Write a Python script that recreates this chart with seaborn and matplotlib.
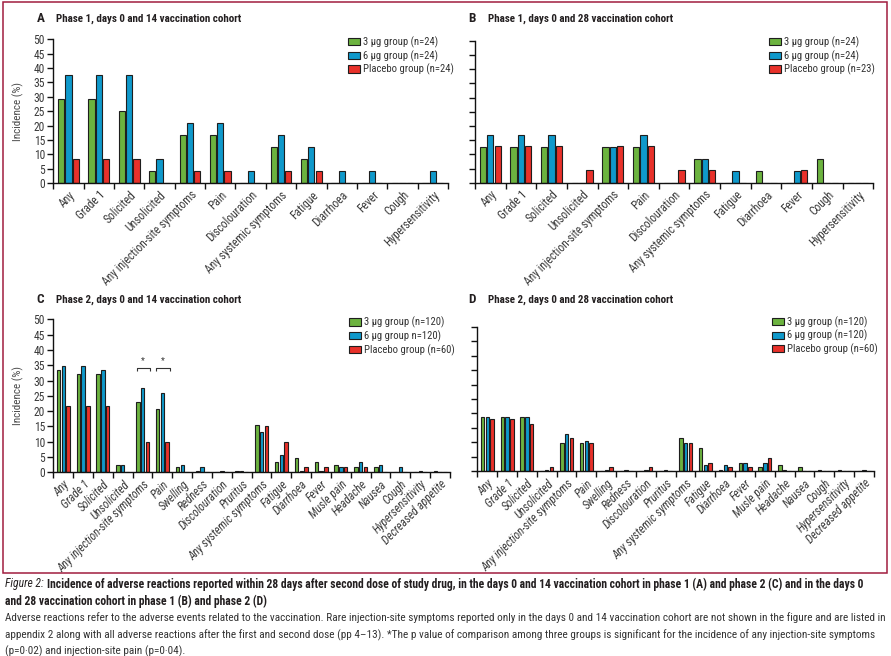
import matplotlib
matplotlib.use("Agg")
import numpy as np
import pandas as pd
import seaborn as sns
import matplotlib.pyplot as plt
from matplotlib.patches import Rectangle, Patch
from matplotlib import font_manager

# reaction categories
cats_p1 = ["Any", "Grade 1", "Solicited", "Unsolicited", "Any injection-site symptoms", "Pain",
           "Discolouration", "Any systemic symptoms", "Fatigue", "Diarrhoea", "Fever", "Cough",
           "Hypersensitivity"]
cats_p2 = ["Any", "Grade 1", "Solicited", "Unsolicited", "Any injection-site symptoms", "Pain",
           "Swelling", "Redness", "Discolouration", "Pruritus", "Any systemic symptoms", "Fatigue",
           "Diarrhoea", "Fever", "Musle pain", "Headache", "Nausea", "Cough", "Hypersensitivity",
           "Decreased appetite"]

# A: phase 1, days 0 and 14
a_3ug = [29.2, 29.2, 25.0, 4.2, 16.7, 16.7, 0, 12.5, 8.3, 0, 0, 0, 0]
a_6ug = [37.5, 37.5, 37.5, 8.3, 20.8, 20.8, 4.2, 16.7, 12.5, 4.2, 4.2, 0, 4.2]
a_plc = [8.3, 8.3, 8.3, 0, 4.2, 4.2, 0, 4.2, 4.2, 0, 0, 0, 0]
a_groups = ["3 μg group (n=24)", "6 μg group (n=24)", "Placebo group (n=24)"]

# B: phase 1, days 0 and 28
b_3ug = [12.5, 12.5, 12.5, 0, 12.5, 12.5, 0, 8.3, 0, 4.2, 0, 8.3, 0]
b_6ug = [16.7, 16.7, 16.7, 0, 12.5, 16.7, 0, 8.3, 4.2, 0, 4.2, 0, 0]
b_plc = [13.0, 13.0, 13.0, 4.3, 13.0, 13.0, 4.3, 4.3, 0, 0, 4.3, 0, 0]
b_groups = ["3 μg group (n=24)", "6 μg group (n=24)", "Placebo group (n=23)"]

# C: phase 2, days 0 and 14
c_3ug = [33.3, 32.2, 32.2, 2.5, 23.1, 20.8, 1.6, 0.5, 0, 0.5, 15.6, 3.3, 4.8, 3.3, 2.5, 1.6, 1.6,
         0, 0, 0.5]
c_6ug = [34.8, 34.8, 33.3, 2.5, 27.4, 25.8, 2.5, 1.6, 0.5, 0.5, 13.3, 5.8, 0.5, 0.5, 1.6, 3.3, 2.5,
         1.6, 0.5, 0]
c_plc = [21.7, 21.7, 21.7, 0, 10.0, 10.0, 0, 0, 0, 0, 15.0, 10.0, 1.6, 1.6, 1.6, 1.6, 0, 0, 0, 0]
c_groups = ["3 μg group (n=120)", "6 μg group n=120)", "Placebo group (n=60)"]

# D: phase 2, days 0 and 28
d_3ug = [18.8, 18.8, 18.8, 0, 9.8, 9.8, 0, 0, 0, 0, 11.4, 7.9, 0.4, 2.8, 1.4, 2.1, 1.4, 0.4, 0.4, 0]
d_6ug = [18.8, 18.8, 18.8, 0.4, 12.9, 10.5, 0.4, 0.4, 0.4, 0.4, 9.7, 2.1, 2.1, 2.8, 2.8, 0.4, 0, 0,
         0, 0.4]
d_plc = [18.0, 18.0, 16.2, 1.4, 11.4, 9.8, 1.4, 0, 1.4, 0, 9.7, 2.8, 1.4, 1.4, 4.5, 0, 0, 0, 0, 0]
d_groups = ["3 μg group (n=120)", "6 μg group (n=120)", "Placebo group (n=60)"]

sig_cats = ["Any injection-site symptoms", "Pain"]

grp_colors = ["#6cb33f", "#0f99cb", "#e8312a"]
W, H = 891, 656

sns.set_theme(style="ticks")
installed = {f.name for f in font_manager.fontManager.ttflist}
font_name = "DejaVu Sans"
for cand in ["Liberation Sans Narrow", "Roboto Condensed", "Open Sans Condensed", "Lato", "Roboto"]:
    if cand in installed:
        font_name = cand
        break
plt.rcParams["font.family"] = [font_name, "DejaVu Sans"]

fig = plt.figure(figsize=(W / 100, H / 100), dpi=100)
renderer = fig.canvas.get_renderer()


def fx(px):
    return px / W


def fy(py):
    return 1 - py / H


def draw_panel(box, cats, series, groups, letter, title, title_pos, legend_pos,
               y_labels=True, italic=False, gap=0.15):
    left, top, right, bottom = box
    ax = fig.add_axes([fx(left), fy(bottom), fx(right - left), (bottom - top) / H])
    rows = []
    for g, vals in zip(groups, series):
        for c, v in zip(cats, vals):
            rows.append((c, g, v))
    df = pd.DataFrame(rows, columns=["reaction", "group", "incidence"])
    sns.barplot(data=df, x="reaction", y="incidence", hue="group", order=cats, hue_order=groups,
                palette=grp_colors, saturation=1, width=0.72, gap=gap, errorbar=None,
                edgecolor="#1e1e1e", linewidth=0.8, legend=False, ax=ax)
    n = len(cats)
    ax.set_xlim(-0.5, n - 0.5)
    ax.set_ylim(0, 50)
    ax.set_yticks(range(0, 51, 5))
    ax.set_xticks(range(n))
    ax.set_xticklabels(cats, rotation=45, ha="right", rotation_mode="anchor", fontsize=8.3,
                       color="#3a3a3a", style="italic" if italic else "normal")
    ax.set_xticks(np.arange(n + 1) - 0.5, minor=True)
    ax.tick_params(axis="x", which="major", length=0, pad=4)
    ax.tick_params(axis="x", which="minor", length=4, width=1, color="#111", direction="out")
    ax.tick_params(axis="y", length=4, width=1, color="#111", direction="out", pad=2,
                   labelsize=8.3, labelcolor="#3a3a3a")
    if y_labels:
        ax.set_ylabel("Incidence (%)", fontsize=8, color="#4a4a4a", labelpad=7)
    else:
        ax.set_yticklabels([])
        ax.set_ylabel("")
    ax.set_xlabel("")
    for s in ["left", "bottom"]:
        ax.spines[s].set_color("#111")
        ax.spines[s].set_linewidth(1)
    sns.despine(ax=ax)

    handles = [Patch(facecolor=c, edgecolor="#1e1e1e", linewidth=0.8) for c in grp_colors]
    ax.legend(handles, groups, loc="upper left", bbox_to_anchor=(fx(legend_pos[0]), fy(legend_pos[1])),
              bbox_transform=fig.transFigure, frameon=False, fontsize=7.7, labelcolor="#333",
              handlelength=1.12, handleheight=0.66, handletextpad=0.3, labelspacing=0.2,
              borderpad=0, borderaxespad=0)

    fig.text(fx(title_pos[0]), fy(title_pos[1]), letter, fontsize=9.5, fontweight="bold",
             color="#231f20", va="center")
    fig.text(fx(title_pos[0] + 20), fy(title_pos[1]), title, fontsize=7.9, fontweight="bold",
             color="#231f20", va="center")
    return ax


draw_panel((53.3, 39.3, 448, 183), cats_p1, [a_3ug, a_6ug, a_plc], a_groups, "A",
           "Phase 1, days 0 and 14 vaccination cohort", (36.5, 19), (348, 36.6))
draw_panel((475, 40.7, 873.3, 182.7), cats_p1, [b_3ug, b_6ug, b_plc], b_groups, "B",
           "Phase 1, days 0 and 28 vaccination cohort", (468.5, 19), (769.3, 36.6), y_labels=False)
ax_c = draw_panel((53.3, 319.3, 450, 472.3), cats_p2, [c_3ug, c_6ug, c_plc], c_groups, "C",
                  "Phase 2, days 0 and 14 vaccination cohort", (36.5, 299.7), (349.3, 316.8),
                  italic=True, gap=0.28)
draw_panel((477.3, 326.7, 874, 471.3), cats_p2, [d_3ug, d_6ug, d_plc], d_groups, "D",
           "Phase 2, days 0 and 28 vaccination cohort", (468.5, 299.7), (771.7, 316.3),
           y_labels=False, italic=True, gap=0.28)

# significance brackets in C
for c in sig_cats:
    i = cats_p2.index(c)
    ax_c.plot([i - 0.3, i - 0.3, i + 0.37, i + 0.37], [33.2, 34.2, 34.2, 33.2], color="#333",
              lw=0.8, solid_capstyle="butt")
    ax_c.text(i, 36.6, "*", ha="center", va="center", fontsize=6.5, color="#333")

# frame around the figure panels
fig.add_artist(Rectangle((fx(3), fy(573)), fx(884), (573 - 2) / H, transform=fig.transFigure,
                         fill=False, edgecolor="#a11d3f", linewidth=1.1))


# caption
def fit_line(parts, x0, py, right, base=8.0):
    texts = []
    for s, kw in parts:
        texts.append(fig.text(fx(x0), fy(py), s, fontsize=base, va="center", **kw))
    widths = [t.get_window_extent(renderer).width for t in texts]
    scale = (right - x0) / sum(widths)
    x = x0
    for t, w in zip(texts, widths):
        t.set_fontsize(base * scale)
        t.set_x(fx(x))
        x += w * scale
    return base * scale


bold_kw = dict(fontweight="bold", color="#231f20")
reg_kw = dict(color="#333333")
size1 = fit_line([("Figure 2: ", dict(style="italic", color="#231f20")),
                  ("Incidence of adverse reactions reported within 28 days after second dose of study drug, "
                   "in the days 0 and 14 vaccination cohort in phase 1 (A) and phase 2 (C) and in the days 0",
                   bold_kw)], 5, 584, 870)
fig.text(fx(5), fy(601), "and 28 vaccination cohort in phase 1 (B) and phase 2 (D)", fontsize=size1,
         va="center", **bold_kw)
size3 = fit_line([("Adverse reactions refer to the adverse events related to the vaccination. Rare injection-site "
                   "symptoms reported only in the days 0 and 14 vaccination cohort are not shown in the figure "
                   "and are listed in", reg_kw)], 5, 618, 883)
fig.text(fx(5), fy(635), "appendix 2 along with all adverse reactions after the first and second dose (pp 4–13). "
         "*The p value of comparison among three groups is significant for the incidence of any injection-site "
         "symptoms", fontsize=size3, va="center", **reg_kw)
fig.text(fx(5), fy(651), "(p=0·02) and injection-site pain (p=0·04).", fontsize=size3, va="center", **reg_kw)

fig.savefig("out.png", dpi=100)
